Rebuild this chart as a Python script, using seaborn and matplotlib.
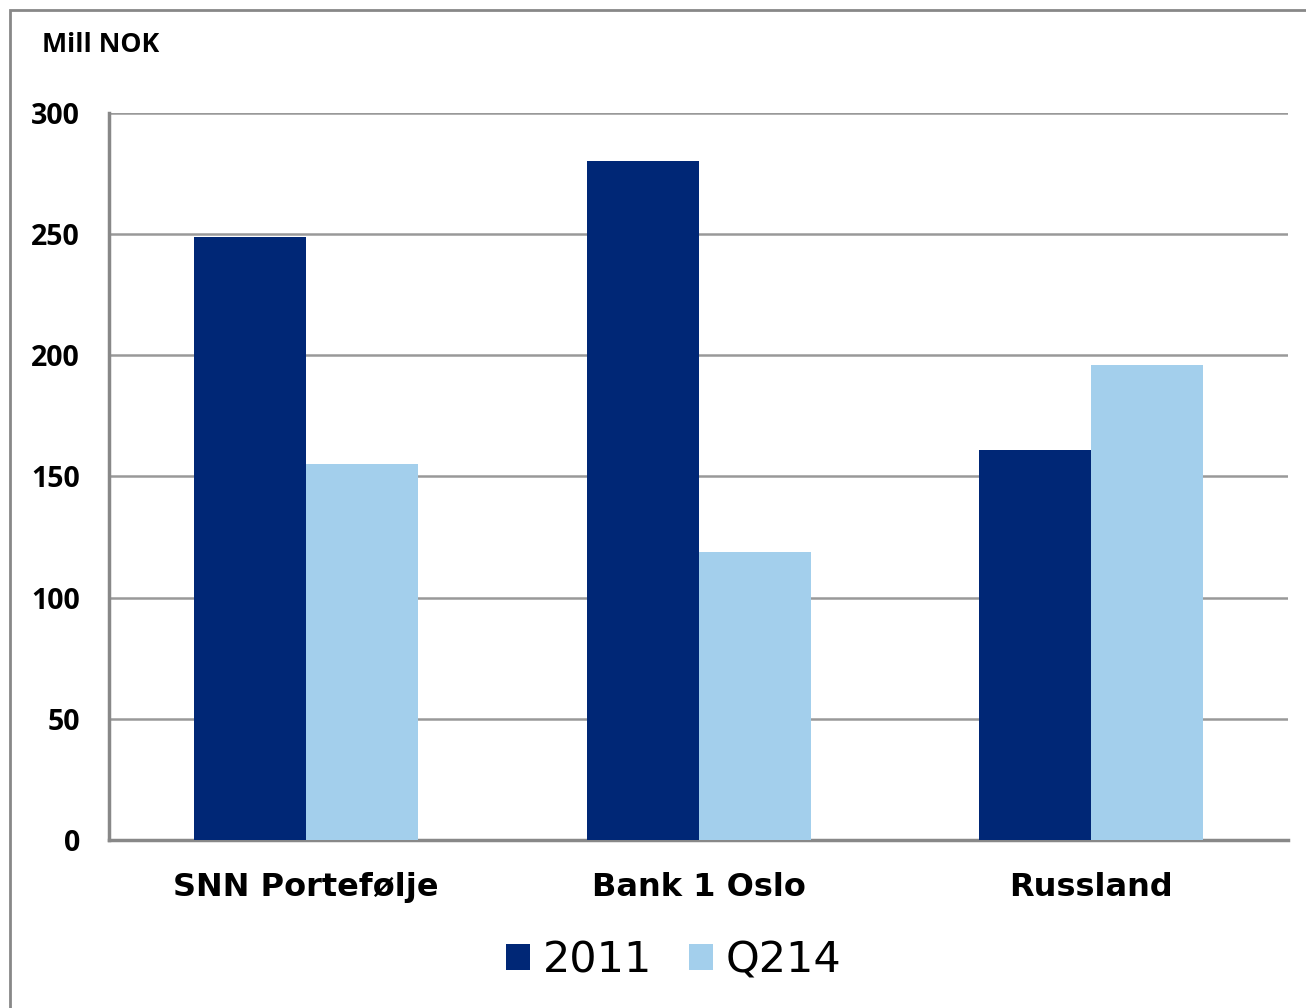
import matplotlib
matplotlib.use("Agg")
import matplotlib.pyplot as plt
import seaborn as sns
import pandas as pd
from matplotlib.patches import Rectangle

categories = ["SNN Portefølje", "Bank 1 Oslo", "Russland"]
series_names = ["2011", "Q214"]
values_2011 = [249, 280, 161]
values_q214 = [155, 119, 196]
yticks = [0, 50, 100, 150, 200, 250, 300]

df = pd.DataFrame({
    "kategori": categories * 2,
    "serie": [series_names[0]] * 3 + [series_names[1]] * 3,
    "verdi": values_2011 + values_q214,
})

sns.set_theme(style="white")
plt.rcParams["font.family"] = ["DejaVu Sans"]
plt.rcParams["text.color"] = "black"
plt.rcParams["xtick.color"] = "black"
plt.rcParams["ytick.color"] = "black"

fig = plt.figure(figsize=(13.06, 10.08), dpi=100)
ax = fig.add_axes([0.0835, 0.1667, 0.9027, 0.7212])

sns.barplot(data=df, x="kategori", y="verdi", hue="serie",
            palette=["#002776", "#A3CFEC"], width=0.57, gap=0,
            saturation=1, linewidth=0, ax=ax, zorder=3)

ax.set_ylim(0, 300)
ax.set_xlim(-0.5, 2.5)
ax.set_yticks(yticks)
ax.yaxis.grid(True, color="#999999", linewidth=1.8, zorder=0)
ax.set_axisbelow(True)
ax.set_xlabel("")
ax.set_ylabel("")
for s in ["top", "right"]:
    ax.spines[s].set_visible(False)
for s in ["left", "bottom"]:
    ax.spines[s].set_color("#888888")
    ax.spines[s].set_linewidth(2.5)

ax.tick_params(axis="both", length=0)
ax.tick_params(axis="x", pad=23)
ax.tick_params(axis="y", pad=21)
for lab in ax.get_xticklabels():
    lab.set_fontfamily("DejaVu Sans")
    lab.set_fontweight("bold")
    lab.set_fontsize(23)
    lab.set_color("black")
for lab in ax.get_yticklabels():
    lab.set_fontfamily("Open Sans")
    lab.set_fontweight("bold")
    lab.set_fontsize(20.5)
    lab.set_color("black")

ax.legend_.remove()
handles, labels = ax.get_legend_handles_labels()
leg = fig.legend(handles, labels, loc="center", bbox_to_anchor=(0.516, 0.047),
                 ncol=2, frameon=False, fontsize=31, handlelength=0.55,
                 handleheight=0.55, handletextpad=0.3, columnspacing=0.85,
                 borderaxespad=0)
for t in leg.get_texts():
    t.set_color("black")

fig.text(0.032, 0.955, "Mill NOK", fontfamily="Open Sans", fontweight="bold",
         fontsize=19.3, va="center", ha="left", color="black")

# outer frame of the slide chart
fig.patches.append(Rectangle((10 / 1306, -0.05), 1.2, 1 - 10 / 1008 + 0.05,
                             transform=fig.transFigure, fill=False,
                             edgecolor="#888888", linewidth=2))

fig.savefig("out.png", dpi=100)
